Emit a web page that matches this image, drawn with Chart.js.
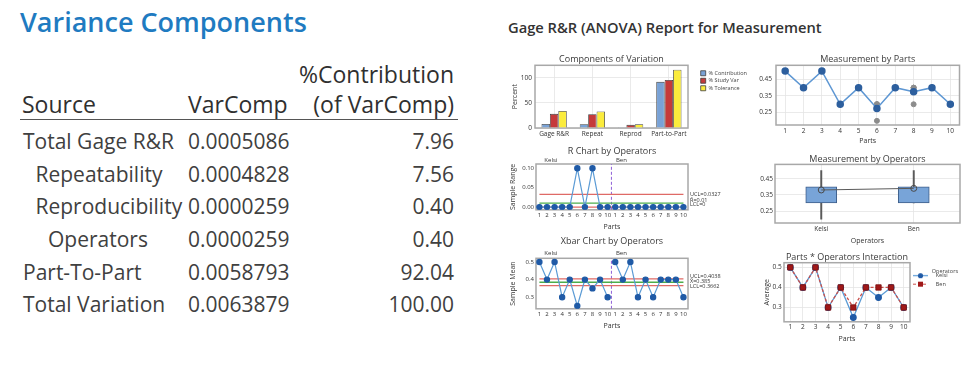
<!DOCTYPE html>
<html lang="en">
<head>
<meta charset="UTF-8">
<title>Gage R&amp;R Report</title>
<style>
  body { margin: 0; width: 974px; height: 366px; background: #fff; position: relative; overflow: hidden;
         font-family: "Open Sans", sans-serif; }
  canvas { position: absolute; }
  #vc-title { position: absolute; left: 20px; top: 5px; font-size: 27px; line-height: 34px; font-weight: 600; color: #1f7bc1; white-space: nowrap; }
  .row { position: absolute; left: 0; width: 470px; height: 30px; font-size: 21px; line-height: 30px; color: #404040; white-space: nowrap; }
  .row span { position: absolute; top: 0; }
  .head { color: #303030; font-size: 23px; }
  .c-var { left: 188px; }
  .c-pct { right: 16px; }
  #rule { position: absolute; left: 20px; top: 119px; width: 438px; border-top: 1.5px solid #555; }
  #report-title { position: absolute; left: 508px; top: 17px; font-size: 14.7px; line-height: 20px; font-weight: 600; color: #333; white-space: nowrap; }
</style>
<script src="https://cdn.jsdelivr.net/npm/chart.js"></script>
</head>
<body>
  <div id="vc-title">Variance Components</div>
  <div class="row head" style="top:59px"><span class="c-pct">%Contribution</span></div>
  <div class="row head" style="top:89px"><span style="left:22px">Source</span><span class="c-var">VarComp</span><span class="c-pct">(of VarComp)</span></div>
  <div id="rule"></div>
  <div id="vc-rows"></div>

  <div id="report-title">Gage R&amp;R (ANOVA) Report for Measurement</div>

  <canvas id="c1" width="245" height="90" style="left:505px; top:50px"></canvas>
  <canvas id="c2" width="215" height="95" style="left:750px; top:50px"></canvas>
  <canvas id="c3" width="230" height="86" style="left:505px; top:145px"></canvas>
  <canvas id="c4" width="215" height="92" style="left:750px; top:153px"></canvas>
  <canvas id="c5" width="230" height="95" style="left:505px; top:235px"></canvas>
  <canvas id="c6" width="210" height="92" style="left:758px; top:251px"></canvas>

<script>
// ---- variance components table
const sources = ['Total Gage R&R', 'Repeatability', 'Reproducibility', 'Operators', 'Part-To-Part', 'Total Variation'];
const sourceLevel = [0, 1, 1, 2, 0, 0];
const varComp = [0.0005086, 0.0004828, 0.0000259, 0.0000259, 0.0058793, 0.0063879];
const contribution = [7.96, 7.56, 0.40, 0.40, 92.04, 100.00];

// ---- components of variation
const components = ['Gage R&R', 'Repeat', 'Reprod', 'Part-to-Part'];
const pctContribution = [7.96, 7.56, 0.40, 92.04];
const pctStudyVar = [28.2, 27.5, 6.3, 95.9];
const pctTolerance = [34, 33, 7.5, 116];
const percentTicks = [0, 50, 100];

// ---- measurements
const parts = ['1', '2', '3', '4', '5', '6', '7', '8', '9', '10'];
const partMeans = [0.5, 0.4, 0.5, 0.3, 0.4, 0.275, 0.4, 0.375, 0.4, 0.3];
const kelsiTrial1 = [0.5, 0.4, 0.5, 0.3, 0.4, 0.3, 0.4, 0.4, 0.4, 0.3];
const kelsiTrial2 = [0.5, 0.4, 0.5, 0.3, 0.4, 0.2, 0.4, 0.3, 0.4, 0.3];
const benTrial1 = [0.5, 0.4, 0.5, 0.3, 0.4, 0.3, 0.4, 0.4, 0.4, 0.3];
const benTrial2 = [0.5, 0.4, 0.5, 0.3, 0.4, 0.3, 0.4, 0.4, 0.4, 0.3];
const measureTicks = [0.25, 0.35, 0.45];

// ---- R chart
const subgroupLabels = ['1', '2', '3', '4', '5', '6', '7', '8', '9', '10', '1', '2', '3', '4', '5', '6', '7', '8', '9', '10'];
const kelsiRanges = [0, 0, 0, 0, 0, 0.1, 0, 0.1, 0, 0];
const benRanges = [0, 0, 0, 0, 0, 0, 0, 0, 0, 0];
const rUCL = 0.0327, rBar = 0.01, rLCL = 0;
const rangeTicks = [0, 0.05, 0.10];
const rYMin = -0.007, rYMax = 0.111;

// ---- Xbar chart
const kelsiMeans = [0.5, 0.4, 0.5, 0.3, 0.4, 0.25, 0.4, 0.35, 0.4, 0.3];
const benMeans = [0.5, 0.4, 0.5, 0.3, 0.4, 0.3, 0.4, 0.4, 0.4, 0.3];
const xUCL = 0.4038, xBar = 0.385, xLCL = 0.3662;
const meanTicks = [0.3, 0.4, 0.5];
const xYMin = 0.234, xYMax = 0.521;
const operatorSplit = 10.5;

// ---- by operators (box plot)
const operators = ['Kelsi', 'Ben'];
const whiskerLow = [0.2, 0.3];
const boxQ1 = [0.3, 0.3];
const boxQ3 = [0.4, 0.4];
const whiskerHigh = [0.5, 0.5];
const operatorMeans = [0.38, 0.39];

// table rows
const rowsEl = document.getElementById('vc-rows');
sources.forEach((s, i) => {
  const row = document.createElement('div');
  row.className = 'row';
  row.style.top = (125.9 + i * 32.7) + 'px';
  const a = document.createElement('span'); a.style.left = (23 + sourceLevel[i] * 12.5) + 'px'; a.textContent = s;
  const b = document.createElement('span'); b.className = 'c-var'; b.textContent = varComp[i].toFixed(7);
  const c = document.createElement('span'); c.className = 'c-pct'; c.textContent = contribution[i].toFixed(2);
  row.append(a, b, c);
  rowsEl.appendChild(row);
});

Chart.defaults.font.family = '"Open Sans", sans-serif';
Chart.defaults.color = '#444';
Chart.defaults.animation = false;
Chart.defaults.responsive = false;
Chart.defaults.devicePixelRatio = 1;
Chart.defaults.events = [];
Chart.defaults.plugins.tooltip.enabled = false;

// grey frame round the plot area
const frame = {
  id: 'frame',
  beforeDatasetsDraw(chart) {
    const a = chart.chartArea, ctx = chart.ctx;
    ctx.save();
    ctx.strokeStyle = '#a8a8a8';
    ctx.lineWidth = 1.5;
    ctx.strokeRect(a.left, a.top, a.right - a.left, a.bottom - a.top);
    ctx.restore();
  }
};

// move legend after layout so the plot keeps its size
const legendShift = {
  id: 'legendShift',
  afterLayout(chart, args, opts) {
    const lg = chart.legend;
    if (!lg || !lg.options.display) return;
    lg.left += opts.dx || 0;
    lg.top += opts.dy || 0;
    if (opts.width) lg.width = opts.width;
    lg.right = lg.left + lg.width;
    lg.bottom = lg.top + lg.height;
  }
};

// small text labels (operator names, control limits)
const notes = {
  id: 'notes',
  afterDatasetsDraw(chart, args, opts) {
    const { ctx, chartArea, scales } = chart;
    (opts.items || []).forEach(n => {
      ctx.save();
      ctx.font = (n.size || 6) + 'px "Open Sans", sans-serif';
      ctx.fillStyle = '#333';
      ctx.textBaseline = 'middle';
      ctx.textAlign = 'left';
      const px = n.x === undefined ? chartArea.right + 2 : scales.x.getPixelForValue(n.x);
      const py = n.y === undefined ? chartArea.top - n.above : scales.y.getPixelForValue(n.y) + (n.dy || 0);
      ctx.fillText(n.text, px, py);
      ctx.restore();
    });
  }
};

const fixW = w => s => { s.width = w; };
const fixH = h => s => { s.height = h; };
const setTicks = vals => s => { s.ticks = vals.map(v => ({ value: v })); };
const gridOn = { color: '#e4e4e4', lineWidth: 0.8, drawTicks: false, offset: false };
const gridOff = { display: false, drawTicks: false };
const noBorder = { display: false };

function titleOpt(text, padBottom) {
  return { display: true, text, fullSize: false, color: '#3a3a3a',
           font: { size: 9, weight: 'normal', lineHeight: 1.2 }, padding: { top: 0, bottom: padBottom || 0 } };
}
function axisTitle(text) {
  return { display: true, text, color: '#333', font: { size: 7 }, padding: { top: 4, bottom: 0 } };
}

// 1. Components of Variation
new Chart(document.getElementById('c1'), {
  type: 'bar',
  data: {
    labels: components,
    datasets: [
      { label: '% Contribution', data: pctContribution, backgroundColor: '#79a2d6', borderColor: '#3c3c3c', borderWidth: 0.8 },
      { label: '% Study Var', data: pctStudyVar, backgroundColor: '#c53a3a', borderColor: '#3c3c3c', borderWidth: 0.8 },
      { label: '% Tolerance', data: pctTolerance, backgroundColor: '#fbec3c', borderColor: '#3c3c3c', borderWidth: 0.8 }
    ]
  },
  options: {
    layout: { padding: { left: 2, top: 4.5, right: 42, bottom: 0 } },
    datasets: { bar: { categoryPercentage: 0.66, barPercentage: 1 } },
    scales: {
      x: { grid: gridOn, border: noBorder, ticks: { font: { size: 6.5 }, padding: 2, maxRotation: 0, autoSkip: false, color: '#333' }, afterFit: fixH(12) },
      y: { min: 0, max: 125, afterBuildTicks: setTicks(percentTicks), grid: gridOn, border: noBorder,
           ticks: { font: { size: 6.5 }, padding: 3, color: '#333' }, title: axisTitle('Percent'), afterFit: fixW(28) }
    },
    plugins: {
      title: titleOpt('Components of Variation'),
      legend: { position: 'right', align: 'start', maxWidth: 20,
                labels: { boxWidth: 5, boxHeight: 5, padding: 2, font: { size: 5.5 }, color: '#444' } },
      legendShift: { dx: 10.7, dy: 14, width: 60 }
    }
  },
  plugins: [frame, legendShift]
});

// 2. Measurement by Parts
const grey = { showLine: false, pointRadius: 2.5, pointBackgroundColor: '#8c8c8c', pointBorderColor: '#8c8c8c' };
new Chart(document.getElementById('c2'), {
  type: 'line',
  data: {
    labels: parts,
    datasets: [
      { data: partMeans, borderColor: '#5e97d3', borderWidth: 1.5, pointRadius: 3, pointBackgroundColor: '#2d5f9e', pointBorderColor: '#2d5f9e' },
      Object.assign({ data: kelsiTrial1 }, grey),
      Object.assign({ data: kelsiTrial2 }, grey),
      Object.assign({ data: benTrial1 }, grey),
      Object.assign({ data: benTrial2 }, grey)
    ]
  },
  options: {
    layout: { padding: { left: 0, top: 4.5, right: 5, bottom: 0 } },
    scales: {
      x: { offset: true, grid: gridOn, border: noBorder, ticks: { font: { size: 6.5 }, padding: 2, color: '#333', autoSkip: false, maxRotation: 0 },
           title: Object.assign(axisTitle('Parts'), { padding: { top: 0, bottom: 0 } }), afterFit: fixH(20) },
      y: { min: 0.175, max: 0.535, afterBuildTicks: setTicks(measureTicks), grid: gridOn, border: noBorder,
           ticks: { font: { size: 6.5 }, padding: 4, color: '#333', callback: v => v.toFixed(2) }, afterFit: fixW(26) }
    },
    plugins: { title: titleOpt('Measurement by Parts'), legend: { display: false } }
  },
  plugins: [frame]
});

// control chart helper (R and Xbar)
function controlChart(id, yTitle, title, kelsi, ben, lims, yMin, yMax, yTicks, digits, titlePad, notesItems) {
  const seg = (v) => [{ x: 1, y: v }, { x: subgroupLabels.length, y: v }];
  const pts = { borderColor: '#5b9bd5', borderWidth: 1.2, pointRadius: 2.6, pointBackgroundColor: '#1f5aa6', pointBorderColor: '#1f5aa6' };
  const lim = { borderWidth: 1.3, pointRadius: 0 };
  new Chart(document.getElementById(id), {
    type: 'line',
    data: {
      datasets: [
        Object.assign({ data: kelsi.map((v, i) => ({ x: i + 1, y: v })) }, pts),
        Object.assign({ data: ben.map((v, i) => ({ x: i + 1 + kelsi.length, y: v })) }, pts),
        Object.assign({ data: seg(lims[0]), borderColor: '#df6a66' }, lim),
        Object.assign({ data: seg(lims[1]), borderColor: '#4cae4c' }, lim),
        Object.assign({ data: seg(lims[2]), borderColor: '#df6a66' }, lim),
        { data: [{ x: operatorSplit, y: yMin }, { x: operatorSplit, y: yMax }], borderColor: '#8e5fd6', borderWidth: 1, borderDash: [3, 2], pointRadius: 0 }
      ]
    },
    options: {
      layout: { padding: { left: 0, top: 0.6, right: 47, bottom: 0 } },
      scales: {
        x: { type: 'linear', min: 0.55, max: 20.6, afterBuildTicks: setTicks(subgroupLabels.map((_, i) => i + 1)),
             grid: gridOff, border: noBorder,
             ticks: { font: { size: 6 }, padding: 2.1, autoSkip: false, maxRotation: 0, color: '#333', callback: (v, i) => subgroupLabels[i] },
             title: Object.assign(axisTitle('Parts'), { padding: { top: 0, bottom: 0 } }), afterFit: fixH(21.2) },
        y: { min: yMin, max: yMax, afterBuildTicks: setTicks(yTicks), grid: gridOff, border: noBorder,
             ticks: { font: { size: 6 }, padding: 2, color: '#333', callback: v => v.toFixed(digits) },
             title: axisTitle(yTitle), afterFit: fixW(31) }
      },
      plugins: { title: titleOpt(title, titlePad), legend: { display: false }, notes: { items: notesItems } }
    },
    plugins: [frame, notes]
  });
}

controlChart('c3', 'Sample Range', 'R Chart by Operators', kelsiRanges, benRanges, [rUCL, rBar, rLCL],
  rYMin, rYMax, rangeTicks, 2, 7.6, [
    { text: operators[0], x: 1.65, above: 3.5 },
    { text: operators[1], x: 11.1, above: 3.5 },
    { text: 'UCL=' + rUCL, y: rUCL, dy: 0, size: 5.5 },
    { text: 'R\u0304=' + rBar, y: rBar, dy: -2.5, size: 5.5 },
    { text: 'LCL=' + rLCL, y: rLCL, dy: -3, size: 5.5 }
  ]);

controlChart('c5', 'Sample Mean', 'Xbar Chart by Operators', kelsiMeans, benMeans, [xUCL, xBar, xLCL],
  xYMin, xYMax, meanTicks, 1, 11.9, [
    { text: operators[0], x: 1.65, above: 5 },
    { text: operators[1], x: 11.1, above: 5 },
    { text: 'UCL=' + xUCL, y: xUCL, dy: -2, size: 5.5 },
    { text: 'X\u0304=' + xBar, y: xBar, dy: -1, size: 5.5 },
    { text: 'LCL=' + xLCL, y: xLCL, dy: 1, size: 5.5 }
  ]);

// 4. Measurement by Operators (box plot)
new Chart(document.getElementById('c4'), {
  type: 'bar',
  data: {
    labels: operators,
    datasets: [
      { type: 'line', data: operatorMeans, borderColor: '#5a5a5a', borderWidth: 1, pointRadius: 3,
        pointBackgroundColor: 'rgba(0,0,0,0)', pointBorderColor: '#4a4a4a', pointBorderWidth: 1 },
      { data: operators.map((_, i) => [boxQ1[i], boxQ3[i]]), backgroundColor: '#78a4d8', borderColor: '#3e5e8a',
        borderWidth: 1, borderSkipped: false, barThickness: 31, grouped: false },
      { data: operators.map((_, i) => [whiskerLow[i], whiskerHigh[i]]), backgroundColor: '#5a5a5a',
        borderWidth: 0, barThickness: 1.3, grouped: false }
    ]
  },
  options: {
    layout: { padding: { left: 0, top: 0.6, right: 4, bottom: 0 } },
    scales: {
      x: { grid: gridOn, border: noBorder, ticks: { font: { size: 6.5 }, padding: 2.1, color: '#333' },
           title: Object.assign(axisTitle('Operators'), { padding: { top: 0, bottom: 0 } }), afterFit: fixH(22) },
      y: { min: 0.176, max: 0.538, afterBuildTicks: setTicks(measureTicks), grid: gridOn, border: noBorder,
           ticks: { font: { size: 6.5 }, padding: 2, color: '#333', callback: v => v.toFixed(2) }, afterFit: fixW(25) }
    },
    plugins: { title: titleOpt('Measurement by Operators'), legend: { display: false } }
  },
  plugins: [frame]
});

// 6. Parts * Operators Interaction
function glyph(fill, line, square, dash) {
  const c = document.createElement('canvas');
  c.width = 20; c.height = 7;
  const g = c.getContext('2d');
  g.strokeStyle = line; g.lineWidth = 1.2; g.setLineDash(dash);
  g.beginPath(); g.moveTo(0, 3.5); g.lineTo(15, 3.5); g.stroke();
  g.fillStyle = fill;
  if (square) g.fillRect(5, 1, 5, 5);
  else { g.beginPath(); g.arc(7.5, 3.5, 2.6, 0, Math.PI * 2); g.fill(); }
  return c;
}
const glyphs = [glyph('#1f5aa6', '#5b9bd5', false, []), glyph('#a01818', '#c9504c', true, [3, 2])];

new Chart(document.getElementById('c6'), {
  type: 'line',
  data: {
    labels: parts,
    datasets: [
      { label: operators[0], data: kelsiMeans, order: 2, borderColor: '#5b9bd5', borderWidth: 1.3,
        pointRadius: 2.8, pointBackgroundColor: '#1f5aa6', pointBorderColor: '#1f5aa6' },
      { label: operators[1], data: benMeans, order: 1, borderColor: '#c9504c', borderWidth: 1.3, borderDash: [3, 2],
        pointStyle: 'rect', pointRadius: 3.8, pointBackgroundColor: '#a01818', pointBorderColor: '#7a1010', pointBorderWidth: 0.8 }
    ]
  },
  options: {
    layout: { padding: { left: 0.5, top: 0.9, right: 38, bottom: 0 } },
    scales: {
      x: { offset: true, grid: gridOn, border: noBorder, ticks: { font: { size: 6.5 }, padding: 1.5, color: '#333', autoSkip: false, maxRotation: 0 },
           title: Object.assign(axisTitle('Parts'), { padding: { top: 0, bottom: 0 } }), afterFit: fixH(21.2) },
      y: { min: 0.2285, max: 0.5235, afterBuildTicks: setTicks(meanTicks), grid: gridOn, border: noBorder,
           ticks: { font: { size: 6.5 }, padding: 2.3, color: '#333', callback: v => v.toFixed(1) },
           title: axisTitle('Average'), afterFit: fixW(25.5) }
    },
    plugins: {
      title: titleOpt('Parts * Operators Interaction'),
      legend: {
        position: 'right', align: 'start', maxWidth: 20,
        title: { display: true, text: 'Operators', position: 'end', color: '#444', font: { size: 5.5, lineHeight: 0.3 }, padding: { top: 0, bottom: 0 } },
        labels: {
          usePointStyle: true, pointStyleWidth: 20, padding: 3, font: { size: 5.5 }, color: '#444',
          sort: (a, b) => a.datasetIndex - b.datasetIndex,
          generateLabels(chart) {
            const items = Chart.defaults.plugins.legend.labels.generateLabels(chart);
            items.forEach(it => { it.pointStyle = glyphs[it.datasetIndex]; });
            return items;
          }
        }
      },
      legendShift: { dx: 0, dy: 16.35, width: 48 }
    }
  },
  plugins: [frame, legendShift]
});
</script>
</body>
</html>
